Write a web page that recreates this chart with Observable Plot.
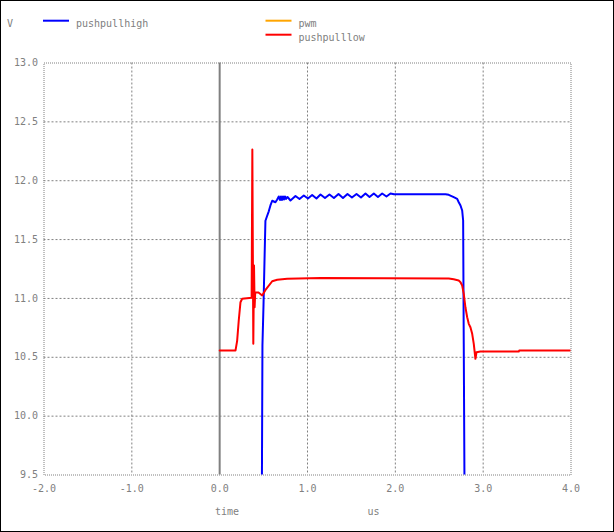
<!DOCTYPE html>
<html>
<head>
<meta charset="utf-8">
<script src="https://cdn.jsdelivr.net/npm/d3@7"></script>
<script src="https://cdn.jsdelivr.net/npm/@observablehq/plot@0.6"></script>
<style>
  html, body { margin: 0; padding: 0; background: #fff; }
  #chart svg { display: block; }
</style>
</head>
<body>
<div id="chart"></div>
<script>
// ---- tick labels ----
const xTicks = [-2, -1, 0, 1, 2, 3, 4];
const yTicks = [9.5, 10, 10.5, 11, 11.5, 12, 12.5, 13];
const xGrid = [-1, 1, 2, 3];
const yGrid = [10, 10.5, 11, 11.5, 12, 12.5];

// ---- series ----
const seriesNames = ["pushpullhigh", "pwm", "pushpulllow"];
const seriesColors = ["#0000ff", "#ffa500", "#ff0000"];

// pushpullhigh (blue)
const highT = [0.481, 0.487, 0.499, 0.51, 0.521, 0.54, 0.559, 0.578, 0.598, 0.635,
  0.655, 0.673, 0.687, 0.698, 0.709, 0.721, 0.732, 0.743, 0.755, 0.772,
  0.806, 0.863, 0.909, 0.958, 1.005, 1.053, 1.102, 1.148, 1.199, 1.25,
  1.301, 1.353, 1.404, 1.455, 1.506, 1.558, 1.609, 1.66, 1.706, 1.755,
  1.802, 1.85, 1.899, 1.945, 1.985, 2.571, 2.608, 2.665, 2.704, 2.722,
  2.742, 2.761, 2.772, 2.779, 2.787];
const highV = [9.45, 10.6, 10.94, 11.305, 11.66, 11.70, 11.74, 11.79, 11.83, 11.817,
  11.84, 11.866, 11.836, 11.866, 11.836, 11.866, 11.84, 11.866, 11.845, 11.862,
  11.832, 11.870, 11.845, 11.874, 11.849, 11.878, 11.849, 11.883, 11.853, 11.883,
  11.853, 11.887, 11.853, 11.887, 11.857, 11.887, 11.857, 11.891, 11.862, 11.891,
  11.862, 11.891, 11.866, 11.891, 11.885, 11.885, 11.880, 11.860, 11.846, 11.817,
  11.789, 11.747, 11.662, 10.617, 9.45];

// pushpulllow (red)
const lowT = [0, 0.18, 0.199, 0.217, 0.237, 0.256, 0.364, 0.372, 0.383, 0.391,
  0.398, 0.405, 0.442, 0.484, 0.52, 0.598, 0.655, 0.769, 1.148, 2.608,
  2.665, 2.722, 2.742, 2.761, 2.779, 2.798, 2.818, 2.836, 2.855, 2.875,
  2.893, 2.912, 2.924, 2.969, 3.405, 3.41, 4.0];
const lowV = [10.557, 10.557, 10.64, 10.81, 10.968, 10.997, 11.005, 12.265, 10.614, 11.28,
  10.925, 11.053, 11.05, 11.025, 11.07, 11.146, 11.158, 11.167, 11.173, 11.17,
  11.163, 11.152, 11.138, 11.11, 11.039, 10.925, 10.84, 10.784, 10.755, 10.699,
  10.614, 10.487, 10.543, 10.549, 10.549, 10.557, 10.557];

const high = highT.map((t, i) => ({t, v: highV[i]}));
const low = lowT.map((t, i) => ({t, v: lowV[i]}));

const gray = "#808080";
const font = "'DejaVu Sans Mono', 'Liberation Mono', monospace";

const W = 614, H = 532;
const mL = 43.5, mR = 43.5, mT = 62.5, mB = 57.5;

const chart = Plot.plot({
  width: W,
  height: H,
  marginLeft: mL,
  marginRight: mR,
  marginTop: mT,
  marginBottom: mB,
  style: {fontFamily: font, fontSize: "10px", color: gray, background: "#fff"},
  x: {domain: [-2, 4], label: null},
  y: {domain: [9.5, 13], label: null},
  marks: [
    Plot.gridX(xGrid, {stroke: gray, strokeOpacity: 1, strokeDasharray: "2,2"}),
    Plot.gridY(yGrid, {stroke: gray, strokeOpacity: 1, strokeDasharray: "2,2"}),
    Plot.frame({stroke: gray, strokeDasharray: "1,1"}),
    Plot.ruleX([0], {stroke: gray, strokeWidth: 2}),
    Plot.line(high, {x: "t", y: "v", stroke: seriesColors[0], strokeWidth: 2, clip: true}),
    Plot.line(low, {x: "t", y: "v", stroke: seriesColors[2], strokeWidth: 2, clip: true}),
    Plot.axisX(xTicks, {label: null, tickSize: 0, tickPadding: 10, tickFormat: d => d.toFixed(1), fill: gray, fontSize: 10}),
    Plot.axisY(yTicks, {label: null, tickSize: 0, tickPadding: 6, tickFormat: d => d.toFixed(1), fill: gray, fontSize: 10})
  ]
});

document.getElementById("chart").appendChild(chart);

// annotations: outer border, unit labels, legend
const svg = d3.select(chart);
svg.append("rect")
  .attr("x", 0.5).attr("y", 0.5).attr("width", W - 1).attr("height", H - 1)
  .attr("fill", "none").attr("stroke", "#000").attr("stroke-width", 1);

const addText = (x, y, s) => svg.append("text")
  .attr("x", x).attr("y", y).attr("fill", gray)
  .attr("text-anchor", "start")
  .attr("font-family", font).attr("font-size", 10).text(s);

addText(7, 26.5, "V");
addText(215, 515, "time");
addText(367.5, 515, "us");

const legendPos = [[43, 20.7], [265.5, 20.7], [265.5, 34.7]];
seriesNames.forEach((name, i) => {
  const [lx, ly] = legendPos[i];
  svg.append("line")
    .attr("x1", lx).attr("x2", lx + 26).attr("y1", ly).attr("y2", ly)
    .attr("stroke", seriesColors[i]).attr("stroke-width", 2);
  addText(lx + 33, ly + 6, name);
});
</script>
</body>
</html>
